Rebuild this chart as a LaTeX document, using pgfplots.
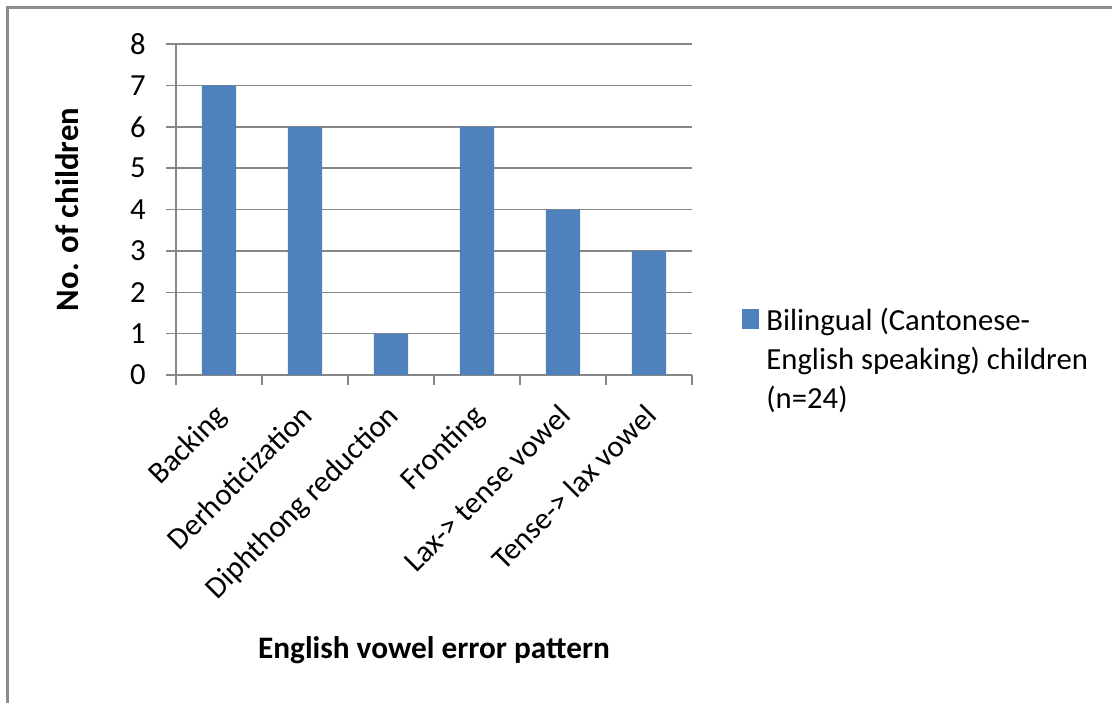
\documentclass[border=0pt]{standalone}
\usepackage{pgfplots}
\pgfplotsset{compat=1.18}
\usepackage{fontspec}
\setmainfont{Carlito}
\definecolor{barblue}{HTML}{4F81BD}
\definecolor{axgray}{HTML}{868686}
\definecolor{framegray}{HTML}{8C8C8C}
\begin{document}
\begin{tikzpicture}[font=\fontsize{15.4}{19.5}\selectfont]
\useasboundingbox (0,0) rectangle (556bp,351.5bp);
% chart frame (top and left edges)
\draw[framegray, line width=1.5bp] (3.75bp,0) -- (3.75bp,347.75bp) -- (556bp,347.75bp);
\begin{axis}[
  at={(88bp,164bp)}, anchor=south west,
  scale only axis, width=258bp, height=165.5bp,
  xmin=-0.5, xmax=5.5, ymin=0, ymax=8,
  axis x line*=bottom, axis y line*=left,
  axis line style={axgray, line width=0.75bp, -},
  ytick={0,...,8},
  ymajorgrids, grid style={axgray, line width=0.75bp},
  xtick={0,...,5},
  xticklabels={Backing, Derhoticization, Diphthong reduction, Fronting, Lax-> tense vowel, Tense-> lax vowel},
  minor xtick={-0.5,0.5,...,5.5},
  major x tick style={draw=none},
  minor x tick style={axgray, line width=0.75bp},
  y tick style={axgray, line width=0.75bp},
  tick align=outside,
  major tick length=5bp, minor tick length=5bp,
  /pgf/number format/assume math mode=true,
  yticklabel style={inner sep=0pt, xshift=-10bp},
  xticklabel style={xshift=-3bp, yshift=-8.5bp, rotate=45, anchor=north east, inner sep=0pt},
  xlabel={\fontsize{15.7}{19}\selectfont\textbf{English vowel error pattern}},
  ylabel={\fontsize{16.4}{19}\selectfont\textbf{No. of children}},
  xlabel style={at={(axis description cs:0.5,-0.831)}, anchor=center},
  ylabel style={at={(axis description cs:-0.211,0.5)}, anchor=center},
  legend style={draw=none, fill=none, at={(axis description cs:1.097,0.045)}, anchor=west,
    inner sep=0pt, nodes={inner sep=0pt, align=left}},
  legend image code/.code={%
    \fill[barblue] (0bp,15.5bp) rectangle (8.5bp,25.5bp);
    \path (12bp,20.5bp);},
]
\addplot[ybar, bar width=17.2bp, fill=barblue, draw=none]
  coordinates {(0,7) (1,6) (2,1) (3,6) (4,4) (5,3)};
\addlegendentry{Bilingual (Cantonese-\\English speaking) children\\(n=24)}
\end{axis}
\end{tikzpicture}
\end{document}
